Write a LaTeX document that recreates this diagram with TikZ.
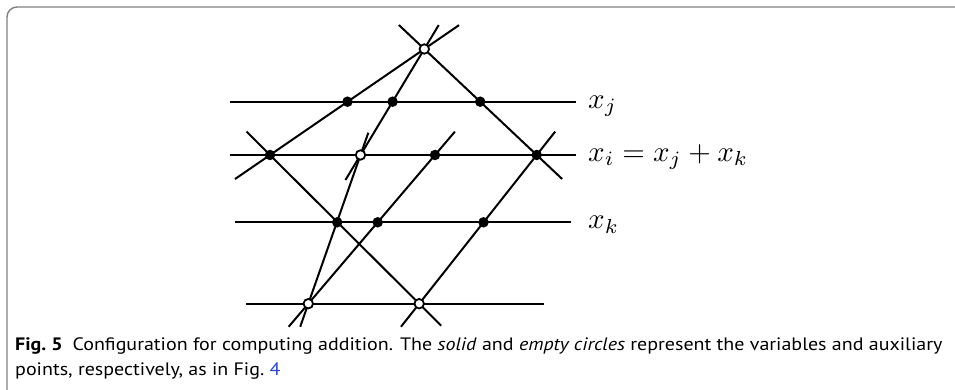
\documentclass[tikz,border=0pt]{standalone}
\usepackage{amsmath}
\usepackage{fontspec}
\usepackage{xcolor}
\usepackage{graphicx}
\usepackage{tikz}
\usetikzlibrary{calc, positioning, backgrounds}
\newfontfamily\capfont[FakeStretch=1.11]{PT Sans}
\definecolor{framegray}{gray}{0.5}
\definecolor{linkblue}{RGB}{40,70,210}

\begin{document}
\begin{tikzpicture}[
  x=1pt, y=-1pt,
  ln/.style={line width=2pt},
  fulldot/.style={circle, fill=black, inner sep=0pt, minimum size=10.5pt},
  emptydot/.style={circle, draw, fill=white, line width=1.8pt, inner sep=0pt, minimum size=9.5pt},
  lbl/.style={anchor=base west, inner sep=0pt},
  caption/.style={anchor=base west, inner sep=0pt, font=\capfont\fontsize{18}{24}\selectfont}
]
  \useasboundingbox (0,0) rectangle (955,390);
  \draw[framegray, line width=1.4pt, rounded corners=10pt] (955,7) -| (7,390);

  % points of the configuration
  \node[emptydot] (O) at (424.3,49) {};
  \node[fulldot] (A1) at (347.5,101.7) {};
  \node[fulldot] (A2) at (392.6,101.7) {};
  \node[fulldot] (A3) at (480.2,101.7) {};
  \node[fulldot] (B1) at (270,155) {};
  \node[emptydot] (B2) at (360.5,155) {};
  \node[fulldot] (B3) at (435,155) {};
  \node[fulldot] (B4) at (536.7,155) {};
  \node[fulldot] (C1) at (337.2,222.3) {};
  \node[fulldot] (C2) at (377.7,222.3) {};
  \node[fulldot] (C3) at (483.5,222.3) {};
  \node[emptydot] (D1) at (308.3,303.7) {};
  \node[emptydot] (D2) at (419.2,303.7) {};

  % horizontal lines
  \coordinate (jL) at (230,101.7);
  \coordinate (jR) at (576,101.7);
  \coordinate (iL) at (230,155);
  \coordinate (iR) at (576,155);
  \coordinate (kL) at (235,222.3);
  \coordinate (kR) at (570.7,222.3);
  \coordinate (bL) at (246,303.7);
  \coordinate (bR) at (544,303.7);

  \begin{pgfonlayer}{background}
    \draw[ln] (jL) -- (jR) (iL) -- (iR) (kL) -- (kR) (bL) -- (bR);
    \draw[ln] ($(B1.center)!-0.227!(O.center)$) -- ($(O.center)!-0.225!(B1.center)$);
    \draw[ln] ($(O.center)!-0.226!(B2.center)$) -- ($(B2.center)!-0.236!(O.center)$);
    \draw[ln] ($(O.center)!-0.226!(B4.center)$) -- ($(B4.center)!-0.226!(O.center)$);
    \draw[ln] ($(B1.center)!-0.157!(D2.center)$) -- ($(D2.center)!-0.148!(B1.center)$);
    \draw[ln] ($(B2.center)!-0.15!(D1.center)$) -- ($(D1.center)!-0.155!(B2.center)$);
    \draw[ln] ($(B3.center)!-0.157!(D1.center)$) -- ($(D1.center)!-0.155!(B3.center)$);
    \draw[ln] ($(B4.center)!-0.157!(D2.center)$) -- ($(D2.center)!-0.155!(B4.center)$);
  \end{pgfonlayer}

  \node[lbl] (labj) at (588,108.3) {\scalebox{2.9}{$x_j$}};
  \node[lbl] (labi) at (588,161.6) {\scalebox{2.9}{$x_i = x_j + x_k$}};
  \node[lbl] (labk) at (588,228.9) {\scalebox{2.9}{$x_k$}};

  \node[caption] (capa) at (15,350) {{\bfseries Fig.~5}\hspace{0.55em}Configuration for computing addition. The \textit{solid} and \textit{empty circles} represent the variables and auxiliary};
  \node[caption] (capb) at ([yshift=-25pt]capa.base west) {points, respectively, as in Fig.~\textcolor{linkblue}{4}};
\end{tikzpicture}
\end{document}
